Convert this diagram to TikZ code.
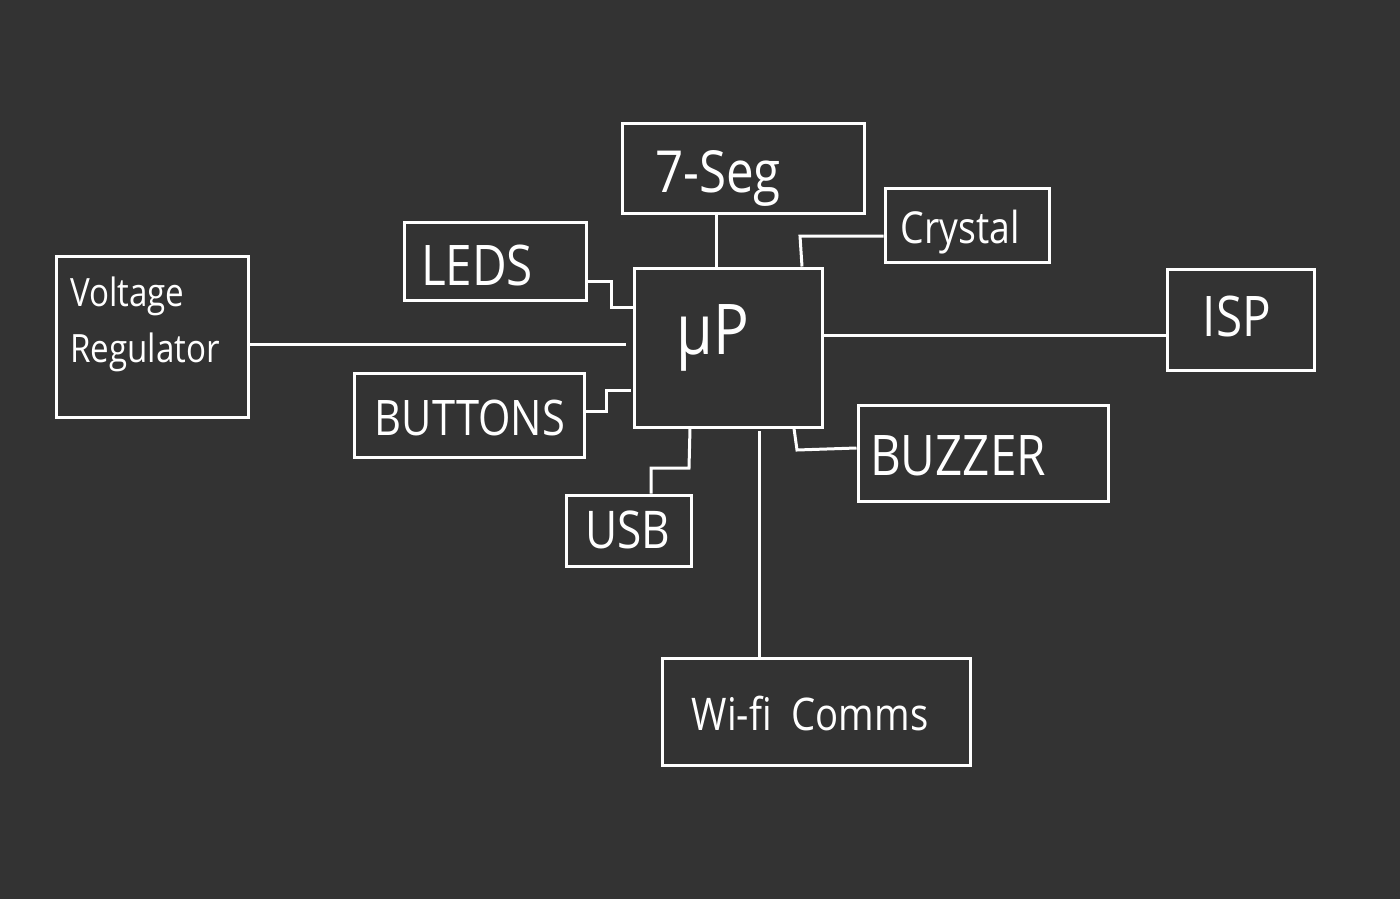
\documentclass[tikz,border=0pt]{standalone}
\usepackage{fontspec}
\newfontfamily\hand[FakeStretch=0.85]{Open Sans}
\definecolor{bg}{HTML}{333333}
\begin{document}
\begin{tikzpicture}[x=1pt,y=-1pt,
  blk/.style={draw=white,line width=3pt,inner sep=0pt,fill=bg},
  wire/.style={draw=white,line width=3pt},
  lbl/.style={text=white,inner sep=0pt,font=\hand}]
\fill[bg] (0,0) rectangle (1400,899);
\useasboundingbox (0,0) rectangle (1400,899);
% boxes
\node[blk,minimum width=242pt,minimum height=90pt] (seg) at (743,168) {};
\node[blk,minimum width=164pt,minimum height=74pt] (crys) at (967,225) {};
\node[blk,minimum width=147pt,minimum height=101pt] (isp) at (1240.5,319.5) {};
\node[blk,minimum width=192pt,minimum height=161pt] (vr) at (152,336.5) {};
\node[blk,minimum width=182pt,minimum height=78pt] (leds) at (495,261) {};
\node[blk,minimum width=230pt,minimum height=84pt] (btn) at (469,415) {};
\node[blk,minimum width=125pt,minimum height=71pt] (usb) at (628.5,530.5) {};
\node[blk,minimum width=250pt,minimum height=96pt] (buz) at (983,453) {};
\node[blk,minimum width=308pt,minimum height=107pt] (wifi) at (816,711.5) {};
\node[blk,minimum width=188pt,minimum height=159pt] (up) at (728,347.5) {};
% labels
\node[lbl,font=\hand\fontsize{58}{58}\selectfont] (tseg) at (718,178) {7-Seg};
\node[lbl,font=\hand\fontsize{44}{44}\selectfont] (tcrys) at (960,232) {Crystal};
\node[lbl,font=\hand\fontsize{56}{56}\selectfont] (tisp) at (1237,316) {ISP};
\node[lbl,font=\hand\fontsize{39}{39}\selectfont,anchor=west] (tv1) at (70,296) {Voltage};
\node[lbl,font=\hand\fontsize{39}{39}\selectfont,anchor=west] (tv2) at (70,352) {Regulator};
\node[lbl,font=\hand\fontsize{56}{56}\selectfont] (tleds) at (477,265) {LEDS};
\node[lbl,font=\hand\fontsize{49}{49}\selectfont] (tbtn) at (470,418) {BUTTONS};
\node[lbl,font=\hand\fontsize{52}{52}\selectfont] (tusb) at (628,530) {USB};
\node[lbl,font=\hand\fontsize{56}{56}\selectfont] (tbuz) at (958,456) {BUZZER};
\node[lbl,font=\hand\fontsize{45}{45}\selectfont] (twifi) at (810,713) {Wi-fi\ \ Comms};
\node[lbl,font=\hand\fontsize{70}{70}\selectfont] (tup) at (713,338) {μP};
% connectors
\coordinate (vrend) at (626,344);
\coordinate (wtop) at (759,431);
\draw[wire] (seg.south -| 716,0) -- (up.north -| 716,0);
\draw[wire] (crys.west |- 0,236) -- (800,236) -- (up.north -| 802,0);
\draw[wire] (up.east |- 0,335) -- (isp.west |- 0,335);
\draw[wire] (vr.east |- 0,344) -- (vrend);
\draw[wire] (leds.east |- 0,281) -- (611,281) -- (611,307) -- (up.west |- 0,307);
\draw[wire] (btn.east |- 0,411) -- (606,411) -- (606,390) -- (631,390);
\draw[wire] (up.south -| 690,0) -- (689,468) -- (651,468) -- (usb.north -| 651,0);
\draw[wire] (up.south -| 794,0) -- (797,450) -- (buz.west |- 0,448);
\draw[wire] (wtop) -- (wifi.north -| 759,0);
\end{tikzpicture}
\end{document}
